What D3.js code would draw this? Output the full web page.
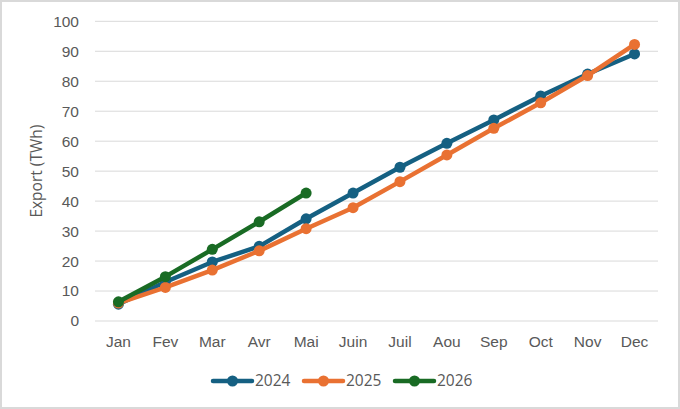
<!DOCTYPE html>
<html lang="fr">
<head>
<meta charset="UTF-8">
<title>Export (TWh)</title>
<script src="https://d3js.org/d3.v7.min.js"></script>
<style>
  body { margin: 0; background: #fff; font-family: "Open Sans", "Liberation Sans", sans-serif; }
  svg { display: block; }
  .tick text { fill: #595959; font-size: 15.5px; }
</style>
</head>
<body>
<div id="chart"></div>
<script>
// data
const months = ['Jan', 'Fev', 'Mar', 'Avr', 'Mai', 'Juin', 'Juil', 'Aou', 'Sep', 'Oct', 'Nov', 'Dec'];
const years = ['2024', '2025', '2026'];
const v2024 = [5.6, 13.0, 19.7, 24.9, 34.1, 42.7, 51.3, 59.3, 67.1, 75.1, 82.4, 89.1];
const v2025 = [6.0, 11.2, 17.0, 23.4, 30.8, 37.8, 46.5, 55.4, 64.3, 72.8, 81.9, 92.3];
const v2026 = [6.4, 14.8, 23.9, 33.1, 42.7];
const yTicks = [0, 10, 20, 30, 40, 50, 60, 70, 80, 90, 100];

const colors = ['#156082', '#E97132', '#196B24'];
const series = [v2024, v2025, v2026];

const width = 680, height = 409;
const plotLeft = 95, plotRight = 658, plotTop = 21.3, plotBottom = 321;

const svg = d3.select('#chart').append('svg')
  .attr('width', width)
  .attr('height', height);

// chart border
svg.append('rect')
  .attr('x', 1).attr('y', 1)
  .attr('width', width - 2).attr('height', height - 2)
  .attr('fill', '#fff')
  .attr('stroke', '#d9d9d9')
  .attr('stroke-width', 2);

const x = d3.scaleBand().domain(months).range([plotLeft, plotRight]);
const y = d3.scaleLinear().domain([0, 100]).range([plotBottom, plotTop]);

// gridlines
svg.append('g')
  .selectAll('line')
  .data(yTicks)
  .enter()
  .append('line')
  .attr('x1', plotLeft).attr('x2', plotRight)
  .attr('y1', d => y(d)).attr('y2', d => y(d))
  .attr('stroke', '#d9d9d9')
  .attr('stroke-width', 1);

// y axis
const yAxis = svg.append('g')
  .attr('transform', `translate(${plotLeft},0)`)
  .call(d3.axisLeft(y).tickValues(yTicks).tickSize(0).tickPadding(16));
yAxis.select('.domain').remove();

// x axis
const xAxis = svg.append('g')
  .attr('transform', `translate(0,${plotBottom})`)
  .call(d3.axisBottom(x).tickSize(0).tickPadding(15));
xAxis.select('.domain').remove();

// y title
svg.append('text')
  .attr('transform', `translate(42,${(plotTop + plotBottom) / 2}) rotate(-90)`)
  .attr('text-anchor', 'middle')
  .attr('fill', '#595959')
  .style('font-size', '15.5px')
  .text('Export (TWh)');

const line = d3.line()
  .x((d, i) => x(months[i]) + x.bandwidth() / 2)
  .y(d => y(d));

series.forEach((vals, s) => {
  const g = svg.append('g');
  g.append('path')
    .datum(vals)
    .attr('d', line)
    .attr('fill', 'none')
    .attr('stroke', colors[s])
    .attr('stroke-width', 4.5)
    .attr('stroke-linejoin', 'round')
    .attr('stroke-linecap', 'round');
  g.selectAll('circle')
    .data(vals)
    .enter()
    .append('circle')
    .attr('cx', (d, i) => x(months[i]) + x.bandwidth() / 2)
    .attr('cy', d => y(d))
    .attr('r', 5.5)
    .attr('fill', colors[s]);
});

// legend
const legendX = [213, 304, 395];
const legend = svg.append('g');
years.forEach((yr, s) => {
  const lg = legend.append('g').attr('transform', `translate(${legendX[s]},381)`);
  lg.append('line')
    .attr('x1', 0).attr('x2', 39)
    .attr('stroke', colors[s])
    .attr('stroke-width', 4.5)
    .attr('stroke-linecap', 'round');
  lg.append('circle')
    .attr('cx', 19.5).attr('r', 5.5)
    .attr('fill', colors[s]);
  lg.append('text')
    .attr('x', 42)
    .attr('dy', '0.35em')
    .attr('fill', '#595959')
    .style('font-size', '15.5px')
    .text(yr);
});
</script>
</body>
</html>
